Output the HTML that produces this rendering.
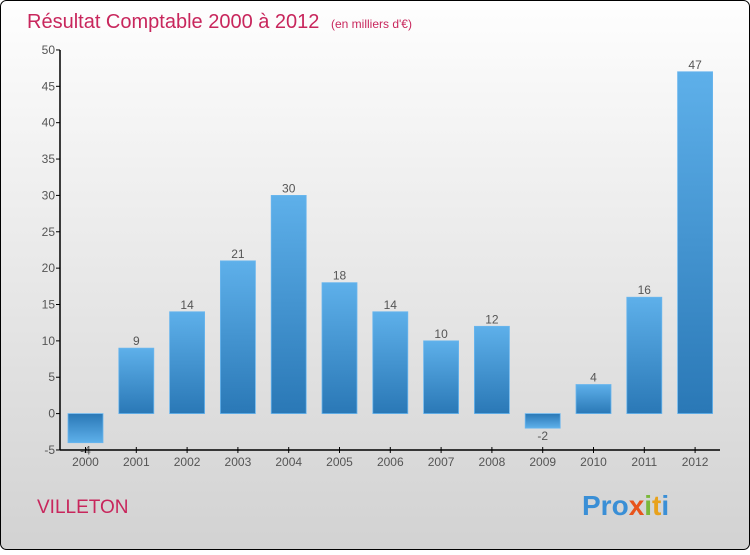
<!DOCTYPE html>
<html><head><meta charset="utf-8"><style>
body{margin:0;width:750px;height:550px;overflow:hidden;font-family:"Liberation Sans",sans-serif}
</style></head><body>
<svg width="750" height="550" viewBox="0 0 750 550">
<defs>
<linearGradient id="bg" x1="0" y1="0" x2="0" y2="1"><stop offset="0" stop-color="#fefefe"/><stop offset="1" stop-color="#d2d2d2"/></linearGradient>
<linearGradient id="gp" x1="0" y1="0" x2="0" y2="1"><stop offset="0" stop-color="#5eb0ea"/><stop offset="1" stop-color="#2a78b6"/></linearGradient>
<linearGradient id="gn" x1="0" y1="0" x2="0" y2="1"><stop offset="0" stop-color="#2a78b6"/><stop offset="1" stop-color="#5eb0ea"/></linearGradient>
</defs>
<rect x="0.5" y="0.5" width="749" height="549" rx="6" fill="url(#bg)" stroke="#000"/>
<text x="27" y="28" font-size="20" fill="#c8265c">Résultat Comptable 2000 à 2012 <tspan font-size="12" dx="6">(en milliers d'€)</tspan></text>
<text x="37" y="513" font-size="19" fill="#c8265c">VILLETON</text>
<text x="582" y="515" font-size="28" font-weight="bold"><tspan fill="#3a8fd6">Pro</tspan><tspan fill="#e8541c">x</tspan><tspan fill="#7ab83a">i</tspan><tspan fill="#e8a21c">t</tspan><tspan fill="#3a8fd6">i</tspan></text>
<g id="plot"></g>
</svg>
<script>
const categories=["2000","2001","2002","2003","2004","2005","2006","2007","2008","2009","2010","2011","2012"];
const values=[-4,9,14,21,30,18,14,10,12,-2,4,16,47];
const yTicks=[-5,0,5,10,15,20,25,30,35,40,45,50];
const NS="http://www.w3.org/2000/svg";
const g=document.getElementById('plot');
const y=v=>413.6-v*7.273;
const x=i=>85.5+i*50.8;
function mk(t,a){const e=document.createElementNS(NS,t);for(const k in a)e.setAttribute(k,a[k]);g.appendChild(e);return e;}
yTicks.forEach(v=>{
 const l=mk('line',{x1:56,x2:60,y1:y(v),y2:y(v),stroke:'#000'});
 
 
 const t=mk('text',{x:55,y:y(v)+4,'text-anchor':'end','font-size':12,fill:'#555'});
 t.textContent=v;
 
 
});
categories.forEach((c,i)=>{
 const v=values[i];
 const top=v>=0?y(v):y(0), h=Math.abs(y(v)-y(0));
 const r=mk('rect',{x:x(i)-17.5,y:top,width:35,height:h,fill:v>=0?'url(#gp)':'url(#gn)',stroke:'#6ab6ee','stroke-width':0.8});
 
 
 const t=mk('text',{x:x(i),y:v>=0?y(v)-3:y(v)+12,'text-anchor':'middle','font-size':12,fill:'#555'});
 t.textContent=v;
 
 
 const tk=mk('line',{x1:x(i),x2:x(i),y1:447,y2:453,stroke:'#000'});
 
 
 const xl=mk('text',{x:x(i),y:466,'text-anchor':'middle','font-size':12,fill:'#555'});
 xl.textContent=c;
 
 
});
const ya=mk('line',{x1:60,x2:60,y1:50,y2:450,stroke:'#000','stroke-width':1.5});


const xa=mk('line',{x1:60,x2:720,y1:450,y2:450,stroke:'#000','stroke-width':1.5});


</script>
</body></html>
